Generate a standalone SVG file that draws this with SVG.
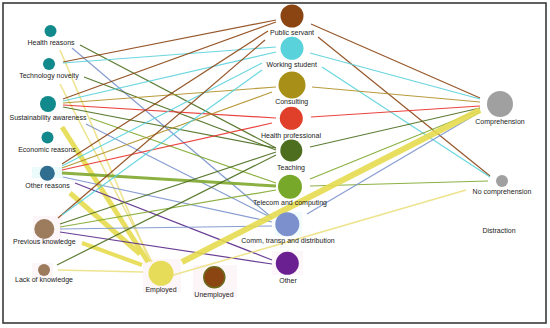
<svg xmlns="http://www.w3.org/2000/svg" width="550" height="328" viewBox="0 0 550 328">
<style>
text{font-family:"Liberation Sans",Arial,sans-serif;font-size:7px;fill:#222;text-anchor:middle}
.e{fill:none;stroke-width:1.2;stroke-linecap:butt;opacity:.9}
.ps{stroke:#8b4513}.ws{stroke:#5ad2dc}.co{stroke:#b09028}.hp{stroke:#e8302a}
.te{stroke:#4d6e1f}.tc{stroke:#7fa82e}.cm{stroke:#7a92cc}.ot{stroke:#5a2a8a}
.em{stroke:#e6dc50}.emp{stroke:#ece184;stroke-width:1.6}
.w3{stroke-width:3}.w4{stroke-width:4}.w5{stroke-width:5}.w6{stroke-width:6}
.teal{fill:#128a8c}
.hl{opacity:.5}
</style>
<rect x="0" y="0" width="550" height="328" fill="#fff"/>
<rect x="3" y="3" width="543" height="320" fill="none" stroke="#3a3a3a" stroke-width="1.6"/>
<g id="highlights" class="hl">
<rect x="32" y="167" width="31" height="11" fill="#d8f6f8"/>
<rect x="33" y="216" width="29" height="28" fill="#fbeef5"/>
<rect x="32" y="263" width="21" height="15" fill="#fbeef5"/>
<rect x="143" y="259" width="38" height="34" fill="#fbeef5"/>
<rect x="193" y="265" width="44" height="33" fill="#fbeef5"/>
<rect x="272" y="251" width="31" height="24" fill="#fbeef5"/>
<rect x="275" y="212" width="27" height="24" fill="#e4f8fa"/>
</g>
<g id="connectors">
<line class="e te" x1="80" y1="45" x2="276" y2="148"/>
<line class="e cm" x1="72" y1="48" x2="270" y2="216"/>
<line class="e emp" x1="60" y1="50" x2="150" y2="262"/>
<line class="e ps" x1="63" y1="62" x2="276" y2="20"/>
<line class="e ws" x1="63" y1="63" x2="276" y2="47"/>
<line class="e te" x1="84" y1="77" x2="276" y2="150"/>
<line class="e emp" x1="60" y1="84" x2="152" y2="262"/>
<line class="e ps" x1="63" y1="99" x2="276" y2="22"/>
<line class="e ws" x1="63" y1="101" x2="276" y2="52"/>
<line class="e co" x1="63" y1="103" x2="276" y2="87"/>
<line class="e hp" x1="63" y1="105" x2="276" y2="118"/>
<line class="e te" x1="63" y1="107" x2="276" y2="148"/>
<line class="e tc" x1="90" y1="118" x2="276" y2="183"/>
<line class="e cm" x1="86" y1="124" x2="272" y2="218"/>
<line class="e em w5" x1="62" y1="127" x2="148" y2="262"/>
<line class="e ps" x1="62" y1="164" x2="268" y2="31"/>
<line class="e ws" x1="62" y1="166" x2="262" y2="63"/>
<line class="e co" x1="62" y1="168" x2="272" y2="92"/>
<line class="e hp" x1="62" y1="170" x2="272" y2="123"/>
<line class="e tc w3" x1="62" y1="173" x2="276" y2="186"/>
<line class="e cm" x1="63" y1="177" x2="272" y2="222"/>
<line class="e ot" x1="75" y1="183" x2="272" y2="260"/>
<line class="e em w5" x1="70" y1="193" x2="140" y2="254"/>
<line class="e ps" x1="58" y1="218" x2="265" y2="40"/>
<line class="e ws" x1="62" y1="215" x2="262" y2="70"/>
<line class="e te" x1="60" y1="224" x2="276" y2="152"/>
<line class="e tc" x1="60" y1="227" x2="276" y2="190"/>
<line class="e cm" x1="60" y1="229" x2="272" y2="226"/>
<line class="e ot" x1="60" y1="232" x2="272" y2="264"/>
<line class="e em w4" x1="82" y1="243" x2="142" y2="265"/>
<line class="e te" x1="57" y1="265" x2="276" y2="155"/>
<line class="e emp" x1="58" y1="270" x2="143" y2="272"/>
<line class="e ps" x1="311" y1="24" x2="480" y2="98"/>
<line class="e ps" x1="318" y1="37" x2="490" y2="176"/>
<line class="e ws" x1="310" y1="53" x2="480" y2="99"/>
<line class="e ws" x1="322" y1="67" x2="490" y2="177"/>
<line class="e co" x1="312" y1="87" x2="480" y2="102"/>
<line class="e hp" x1="311" y1="117" x2="480" y2="106"/>
<line class="e te" x1="310" y1="147" x2="480" y2="108"/>
<line class="e tc" x1="310" y1="179" x2="480" y2="110"/>
<line class="e tc" x1="310" y1="186" x2="488" y2="181"/>
<line class="e cm" x1="307" y1="214" x2="480" y2="112"/>
<line class="e em w6" x1="182" y1="262" x2="480" y2="110"/>
<line class="e emp" x1="170" y1="276" x2="466" y2="190"/>
</g>
<g id="n-health-reasons"><circle class="teal" cx="50.5" cy="31" r="6"/><text x="51" y="44.5">Health reasons</text></g>
<g id="n-technology-novelty"><circle class="teal" cx="49" cy="64" r="6"/><text x="49" y="77.5">Technology novelty</text></g>
<g id="n-sustainability-awareness"><circle class="teal" cx="48" cy="104" r="8"/><text x="48" y="120">Sustainability awareness</text></g>
<g id="n-economic-reasons"><circle class="teal" cx="47.5" cy="137.5" r="6"/><text x="47" y="151.5">Economic reasons</text></g>
<g id="n-other-reasons"><circle fill="#2f6e8e" cx="47.3" cy="173.3" r="7.5"/><text x="47.5" y="187.5">Other reasons</text></g>
<g id="n-previous-knowledge"><circle fill="#9c7c5c" cx="44.3" cy="229" r="10"/><text x="44.3" y="244">Previous knowledge</text></g>
<g id="n-lack-of-knowledge"><circle fill="#9c7c5c" cx="44" cy="270" r="6"/><text x="44" y="281.5">Lack of knowledge</text></g>
<g id="n-employed"><circle fill="#e6dc5a" cx="161" cy="273.3" r="12.5"/><text x="161" y="292">Employed</text></g>
<g id="n-unemployed"><circle fill="#8b4513" stroke="#6b6a1c" stroke-width="1.5" cx="214.3" cy="277.3" r="10.5"/><text x="214" y="296.5">Unemployed</text></g>
<g id="n-public-servant"><circle fill="#8b4513" cx="292" cy="16" r="11.5"/><text x="292" y="35">Public servant</text></g>
<g id="n-working-student"><circle fill="#5ad2dc" cx="292" cy="48.3" r="11.5"/><text x="291.7" y="67">Working student</text></g>
<g id="n-consulting"><circle fill="#a89018" cx="292" cy="85" r="13.5"/><text x="291.7" y="104">Consulting</text></g>
<g id="n-health-professional"><circle fill="#e0402a" cx="291.3" cy="118.3" r="11.5"/><text x="291" y="137.5">Health professional</text></g>
<g id="n-teaching"><circle fill="#4d6e1f" cx="291.3" cy="150.5" r="11"/><text x="291" y="170">Teaching</text></g>
<g id="n-telecom"><circle fill="#78a82a" cx="290" cy="186.7" r="12"/><text x="290" y="205">Telecom and computing</text></g>
<g id="n-comm"><circle fill="#7b90cc" cx="287.3" cy="224.3" r="12"/><text x="288" y="243">Comm, transp and distribution</text></g>
<g id="n-other"><circle fill="#6a2090" cx="287.3" cy="263.3" r="11.5"/><text x="288" y="282.5">Other</text></g>
<g id="n-comprehension"><circle fill="#a0a0a0" cx="500" cy="104" r="13"/><text x="500" y="124">Comprehension</text></g>
<g id="n-no-comprehension"><circle fill="#a0a0a0" cx="502" cy="181" r="6"/><text x="502" y="193.5">No comprehension</text></g>
<g id="n-distraction"><text x="499" y="233">Distraction</text></g>
</svg>
